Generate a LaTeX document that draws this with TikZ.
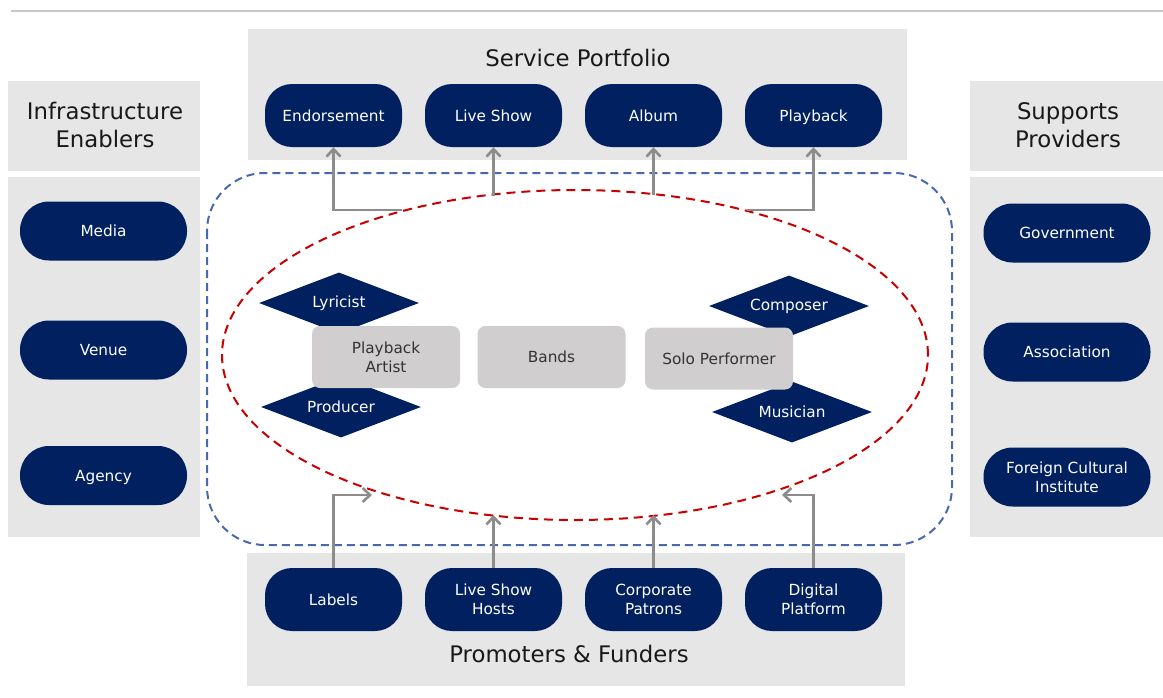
\documentclass[tikz,border=0pt]{standalone}
\usepackage{fontspec}
\setmainfont{DejaVu Sans}
\usepackage{tikz}
\usetikzlibrary{shapes.geometric, arrows.meta, positioning, calc}
\definecolor{navyfill}{RGB}{0, 32, 96}
\definecolor{panelgray}{RGB}{230, 230, 230}
\definecolor{rolegray}{RGB}{208, 206, 206}
\definecolor{flowgray}{RGB}{140, 140, 140}
\definecolor{ringblue}{RGB}{72, 106, 172}
\definecolor{ringred}{RGB}{200, 0, 0}
\definecolor{ruleline}{RGB}{200, 200, 200}

\tikzset{
  pill/.style={fill=navyfill, text=white, rounded corners=27pt,
    minimum width=137pt, minimum height=63pt, align=center,
    text height=11pt, text depth=0pt,
    font=\fontsize{15.3}{19}\selectfont},
  twoline/.style={text height=, text depth=},
  sidepill/.style={pill, rounded corners=29pt, minimum width=167pt, minimum height=59pt},
  role/.style={fill=rolegray, rounded corners=8pt, minimum width=148pt,
    minimum height=62pt, align=center, text=black!80,
    font=\fontsize{15.3}{19}\selectfont},
  craft/.style={diamond, fill=navyfill, text=white, aspect=2.6, inner sep=0pt,
    minimum width=160pt, minimum height=61pt, font=\fontsize{15.3}{19}\selectfont},
  paneltitle/.style={align=center, text=black!90, font=\fontsize{22.8}{28}\selectfont},
  feed/.style={draw=flowgray, line width=2.6pt, -{Straight Barb[length=7.5pt,width=14pt]}},
}

\begin{document}
\begin{tikzpicture}[x=1pt, y=-1pt]
    \useasboundingbox (0,0) rectangle (1163,697);
    \draw[ruleline, line width=1.2pt] (11,11) -- (1163,11);

    % Panels
    \fill[panelgray] (248,29) rectangle (907,160);
    \fill[panelgray] (247,553) rectangle (905,686);
    \fill[panelgray] (8,81) rectangle (200,171);
    \fill[panelgray] (8,177) rectangle (200,537);
    \fill[panelgray] (970,81) rectangle (1163,171);
    \fill[panelgray] (970,177) rectangle (1163,537);

    \node[paneltitle] (tservice) at (578,58) {Service Portfolio};
    \node[paneltitle] (tpromo) at (569,654) {Promoters \& Funders};
    \node[paneltitle] (tinfra) at (105,125) {Infrastructure\\Enablers};
    \node[paneltitle] (tsupport) at (1068,125) {Supports\\Providers};

    % Ecosystem boundary and core ring
    \draw[ringblue, line width=2pt, dash pattern=on 8pt off 5pt, rounded corners=58pt]
        (207,173) rectangle (952,545);
    \draw[ringred, line width=2pt, dash pattern=on 9pt off 6pt]
        (575,355) ellipse [x radius=353pt, y radius=165pt];

    % Crafts behind the artists
    \node[craft] (lyricist) at (339,303) {Lyricist};
    \node[craft] (producer) at (341,407) {Producer};
    \node[craft] (composer) at (789,306) {Composer};
    \node[craft] (musician) at (792,412) {Musician};

    \node[role] (playart) at (386,357) {Playback\\Artist};
    \node[role] (bands) at (551.5,357) {Bands};
    \node[role] (solo) at (719,358.5) {Solo Performer};

    % Service portfolio
    \node[pill] (endorse) at (333.5,115.5) {Endorsement};
    \node[pill] (liveshow) at (493.5,115.5) {Live Show};
    \node[pill] (album) at (653.5,115.5) {Album};
    \node[pill] (playback) at (813.5,115.5) {Playback};

    % Promoters and funders
    \node[pill] (labels) at (333.5,599.5) {Labels};
    \node[pill, twoline] (hosts) at (493.5,599.5) {Live Show\\Hosts};
    \node[pill, twoline] (patrons) at (653.5,599.5) {Corporate\\Patrons};
    \node[pill, twoline] (digital) at (813.5,599.5) {Digital\\Platform};

    % Side columns
    \node[sidepill] (media) at (103.5,231) {Media};
    \node[sidepill] (venue) at (103.5,350) {Venue};
    \node[sidepill] (agency) at (103.5,475.5) {Agency};
    \node[sidepill] (govt) at (1067,233) {Government};
    \node[sidepill] (assoc) at (1067,352) {Association};
    \node[sidepill, twoline] (foreign) at (1067,477) {Foreign Cultural\\Institute};

    % Flows out of and into the ring
    \coordinate (out1) at (402,210);
    \coordinate (out2) at (493.5,196);
    \coordinate (out3) at (653.5,195);
    \coordinate (out4) at (747,210);
    \coordinate (in1) at (372,495);
    \coordinate (in2) at (493.5,515);
    \coordinate (in3) at (653.5,515);
    \coordinate (in4) at (782,495);

    \draw[feed] (out1) -| (endorse.south);
    \draw[feed] (out2) -- (liveshow.south);
    \draw[feed] (out3) -- (album.south);
    \draw[feed] (out4) -| (playback.south);
    \draw[feed] (labels.north) |- (in1);
    \draw[feed] (hosts.north) -- (in2);
    \draw[feed] (patrons.north) -- (in3);
    \draw[feed] (digital.north) |- (in4);
\end{tikzpicture}
\end{document}
